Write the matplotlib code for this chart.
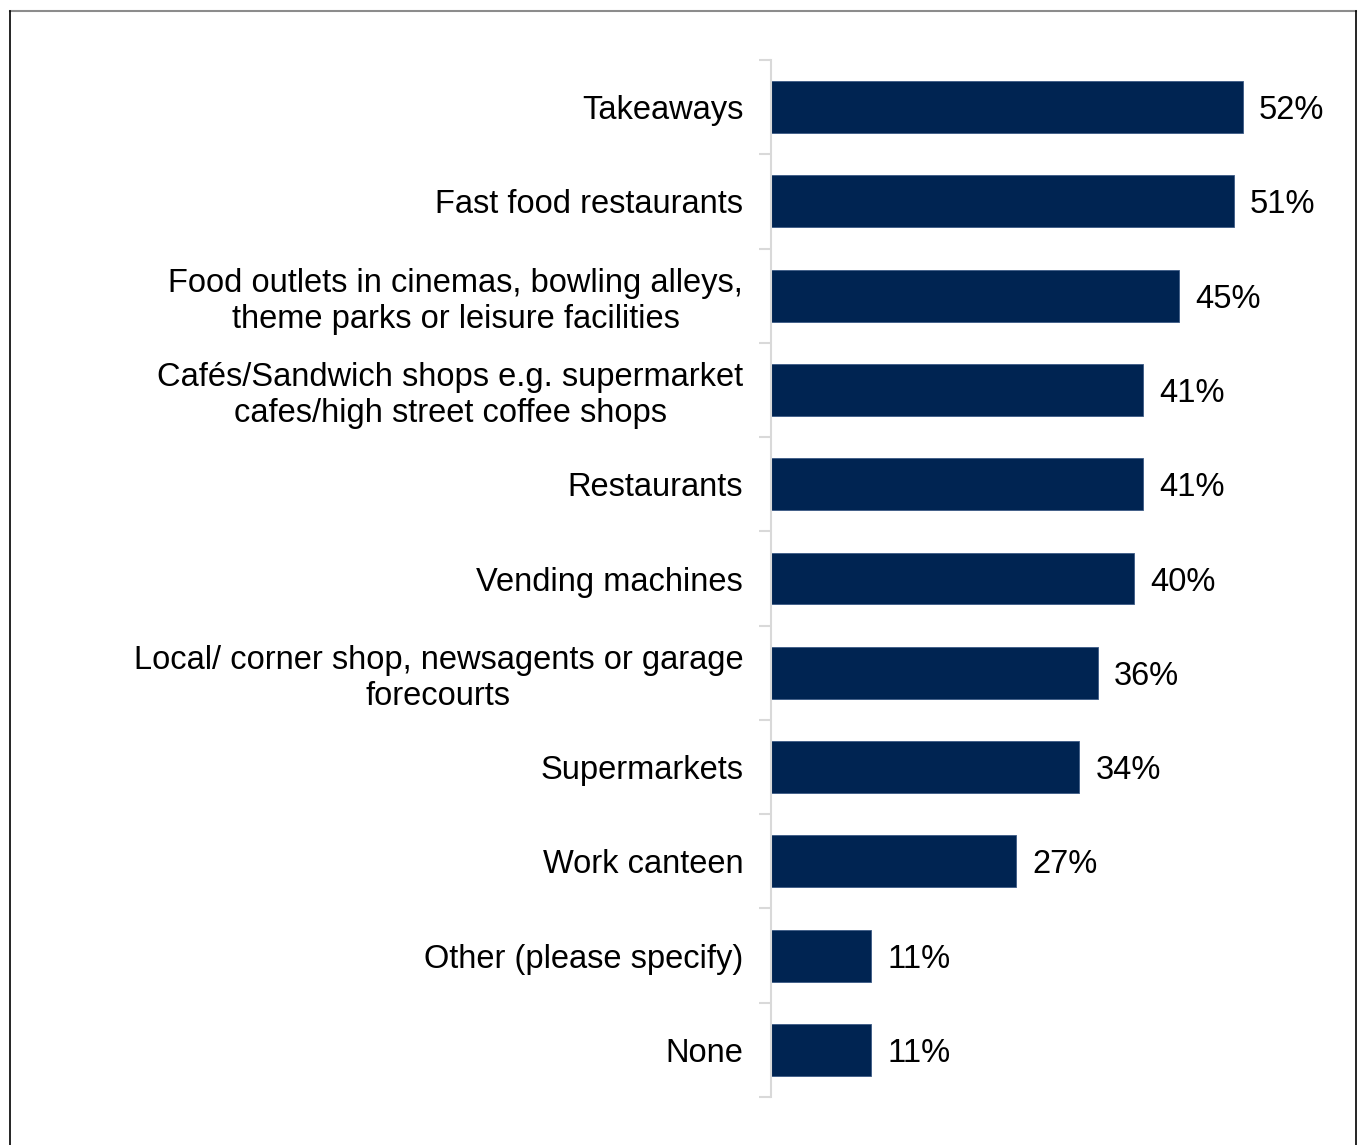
import matplotlib.pyplot as plt
from matplotlib.lines import Line2D
from matplotlib.transforms import ScaledTranslation
import numpy as np

plt.rcParams['font.family'] = ['Liberation Sans', 'DejaVu Sans']

# Where people buy food out of home
categories = [
    'Takeaways',
    'Fast food restaurants',
    'Food outlets in cinemas, bowling alleys,\ntheme parks or leisure facilities',
    'Cafés/Sandwich shops e.g. supermarket\ncafes/high street coffee shops',
    'Restaurants',
    'Vending machines',
    'Local/ corner shop, newsagents or garage\nforecourts',
    'Supermarkets',
    'Work canteen',
    'Other (please specify)',
    'None',
]
values = [52, 51, 45, 41, 41, 40, 36, 34, 27, 11, 11]

bar_color = '#002452'
W, H = 1358, 1145
fsize = 23.5

fig = plt.figure(figsize=(W / 100, H / 100), dpi=100)

# axes placed so the spine sits at x=771 and spans y=60..1097
x0, x1 = 771, 771 + 58 * 9.07
ytop, ybot = 60, 1097
ax = fig.add_axes([x0 / W, 1 - ybot / H, (x1 - x0) / W, (ybot - ytop) / H])

pos = np.arange(len(categories))
ax.barh(pos, values, height=0.55, color=bar_color, edgecolor='#3b5a85', linewidth=0.6)
ax.set_xlim(0, 58)
ax.set_ylim(len(categories) - 0.5, -0.5)

for p, v in zip(pos, values):
    ax.text(v + 1.8, p, f'{v}%', va='center_baseline', ha='left', fontsize=fsize, clip_on=False)

ax.set_yticks(pos)
ax.set_yticklabels(categories, fontsize=fsize, ha='center', multialignment='center')
ax.tick_params(axis='y', which='major', length=0, pad=20)
ax.set_yticks(np.arange(-0.5, len(categories), 1), minor=True)
ax.tick_params(axis='y', which='minor', length=9, color='#d9d9d9', width=1.5)
ax.set_xticks([])

# centered labels: move each left by half its width so the right edge sits by the axis
fig.canvas.draw()
renderer = fig.canvas.get_renderer()
for lbl in ax.get_yticklabels():
    bb = lbl.get_window_extent(renderer)
    lbl.set_transform(lbl.get_transform() + ScaledTranslation(-bb.width / 2 / fig.dpi, 0, fig.dpi_scale_trans))

for s in ['top', 'right', 'bottom']:
    ax.spines[s].set_visible(False)
ax.spines['left'].set_color('#d9d9d9')
ax.spines['left'].set_linewidth(1.5)

# outer frame
fig.add_artist(Line2D([10 / W, 1356 / W], [1 - 11 / H, 1 - 11 / H], color='#8c8c8c', lw=1.5))
fig.add_artist(Line2D([10 / W, 10 / W], [0, 1 - 11 / H], color='black', lw=1.2))
fig.add_artist(Line2D([1356 / W, 1356 / W], [0, 1 - 11 / H], color='black', lw=1.2))

fig.savefig('out.png', dpi=100, facecolor='white')
